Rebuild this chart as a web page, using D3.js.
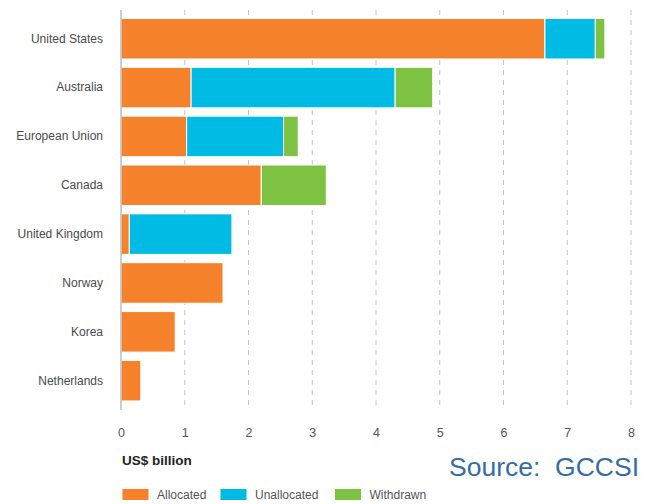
<!DOCTYPE html>
<html>
<head>
<meta charset="utf-8">
<script src="https://cdn.jsdelivr.net/npm/d3@7/dist/d3.min.js"></script>
<style>
  html, body { margin: 0; padding: 0; background: #fff; }
  svg { display: block; }
  text { font-family: "Liberation Sans", Arial, sans-serif; }
</style>
</head>
<body>
<svg id="chart" width="647" height="504"></svg>
<script>
// CCS funding by country, US$ billion
const countries = ["United States", "Australia", "European Union", "Canada",
                   "United Kingdom", "Norway", "Korea", "Netherlands"];
const allocated   = [6.65, 1.10, 1.03, 2.20, 0.13, 1.60, 0.85, 0.31];
const unallocated = [0.79, 3.20, 1.52, 0.00, 1.61, 0.00, 0.00, 0.00];
const withdrawn   = [0.15, 0.59, 0.23, 1.02, 0.00, 0.00, 0.00, 0.00];
const seriesNames = ["Allocated", "Unallocated", "Withdrawn"];
const xTicks = [0, 1, 2, 3, 4, 5, 6, 7, 8];

const colors = ["#f5822a", "#00bbe3", "#7dc242"];

const rows = countries.map((c, i) => ({
  country: c,
  Allocated: allocated[i],
  Unallocated: unallocated[i],
  Withdrawn: withdrawn[i]
}));

const svg = d3.select("#chart");

const x = d3.scaleLinear().domain([0, 8]).range([121, 631]);
const y = d3.scaleBand().domain(countries).range([14.3, 405.1])
  .paddingInner(0.17).paddingOuter(0.085);
const color = d3.scaleOrdinal().domain(seriesNames).range(colors);

// dashed vertical gridlines
svg.append("g")
  .selectAll("line")
  .data(xTicks.filter(t => t > 0))
  .join("line")
  .attr("x1", d => x(d)).attr("x2", d => x(d))
  .attr("y1", 10).attr("y2", 410)
  .attr("stroke", "#c4c4c4")
  .attr("stroke-width", 1)
  .attr("stroke-dasharray", "5,5");

// stacked bars
const stack = d3.stack().keys(seriesNames);
const layers = stack(rows);

svg.append("g")
  .selectAll("g")
  .data(layers)
  .join("g")
  .attr("fill", d => color(d.key))
  .selectAll("rect")
  .data(d => d.filter(s => s[1] - s[0] > 0))
  .join("rect")
  .attr("x", d => x(d[0]))
  .attr("y", d => y(d.data.country))
  .attr("width", d => x(d[1]) - x(d[0]))
  .attr("height", y.bandwidth())
  .attr("stroke", "#ffffff")
  .attr("stroke-width", 1);

// baseline at zero
svg.append("line")
  .attr("x1", x(0)).attr("x2", x(0))
  .attr("y1", 10).attr("y2", 410)
  .attr("stroke", "#bdbdbd")
  .attr("stroke-width", 1.5);

// category labels
const yAxis = d3.axisLeft(y).tickSize(0).tickPadding(18);
const gy = svg.append("g").attr("transform", `translate(${x(0)},0)`).call(yAxis);
gy.select(".domain").remove();
gy.selectAll("text")
  .attr("font-family", "Liberation Sans, Arial, sans-serif")
  .attr("font-size", 12)
  .attr("fill", "#4a4a4a");

// x axis tick labels
const xAxis = d3.axisBottom(x).tickValues(xTicks).tickSize(0).tickPadding(0)
  .tickFormat(d3.format("d"));
const gx = svg.append("g").attr("transform", "translate(0,428)").call(xAxis);
gx.select(".domain").remove();
gx.selectAll("text")
  .attr("font-family", "Liberation Sans, Arial, sans-serif")
  .attr("font-size", 12.5)
  .attr("fill", "#555");

// unit label
svg.append("text")
  .attr("x", 122).attr("y", 464.5)
  .attr("font-size", 13.5)
  .attr("font-weight", "bold")
  .attr("fill", "#222")
  .text("US$ billion");

// source note
svg.append("text")
  .attr("x", 639).attr("y", 476)
  .attr("text-anchor", "end")
  .attr("font-family", "Open Sans, sans-serif")
  .attr("font-size", 26.5)
  .attr("fill", "#356ca4")
  .style("white-space", "pre")
  .text("Source:  GCCSI");

// legend
const legendX = [122.5, 220.5, 335];
const lg = svg.append("g")
  .selectAll("g")
  .data(seriesNames)
  .join("g")
  .attr("transform", (d, i) => `translate(${legendX[i]},489)`);
lg.append("rect")
  .attr("width", 26).attr("height", 11)
  .attr("fill", d => color(d));
lg.append("text")
  .attr("x", 34.5).attr("y", 10)
  .attr("font-size", 12)
  .attr("fill", "#555")
  .text(d => d);
</script>
</body>
</html>
